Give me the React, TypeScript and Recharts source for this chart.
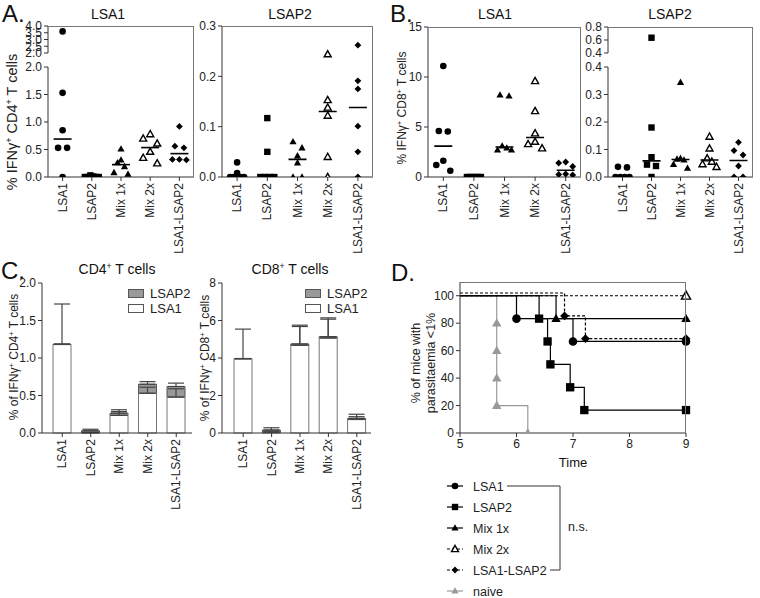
import React from "react";
import {
  ScatterChart,
  Scatter,
  XAxis,
  YAxis,
  BarChart,
  Bar,
  ErrorBar,
  LineChart,
  Line,
  Legend,
} from "recharts";

const FONT = "'Liberation Sans', Arial, Helvetica, sans-serif";
const AXIS = "#333";
const FRAME = "#777";

const groups = ["LSA1", "LSAP2", "Mix 1x", "Mix 2x", "LSA1-LSAP2"];

// A: % IFNγ+ CD4+ T cells, one row per vaccine group (6 mice)
const cd4OnLsa1 = [
  [3.6, 1.53, 0.85, 0.53, 0.53, 0],
  [0.03, 0.01, 0, 0, 0, 0],
  [0.51, 0.31, 0.26, 0.19, 0.08, 0.05],
  [0.78, 0.7, 0.61, 0.46, 0.35, 0.25],
  [0.92, 0.56, 0.53, 0.32, 0.32, 0.31],
];
const cd4OnLsap2 = [
  [0.029, 0.008, 0, 0, 0, 0],
  [0.117, 0.05, 0, 0, 0, 0],
  [0.07, 0.058, 0.042, 0.028, 0, 0],
  [0.244, 0.153, 0.138, 0.122, 0.04, 0],
  [0.262, 0.191, 0.175, 0.101, 0.05, 0],
];

// B: % IFNγ+ CD8+ T cells
const cd8OnLsa1 = [
  [11.1, 4.6, 4.55, 1.63, 1.2, 0.63],
  [0, 0, 0, 0, 0, 0],
  [8.2, 8.1, 3.1, 2.9, 2.7, 2.7],
  [9.6, 6.6, 4.37, 3.53, 3.3, 2.87],
  [1.5, 1.4, 1.05, 0.3, 0.25, 0.2],
];
const cd8OnLsap2 = [
  [0.037, 0.035, 0, 0, 0, 0],
  [0.635, 0.18, 0.072, 0.045, 0.04, 0],
  [0.344, 0.068, 0.065, 0.062, 0.046, 0.032],
  [0.147, 0.104, 0.068, 0.056, 0.047, 0.037],
  [0.126, 0.096, 0.08, 0.04, 0, 0],
];

// C: stacked means and upward SEM
const cd4MeanLsa1 = [1.18, 0.005, 0.235, 0.53, 0.48];
const cd4MeanLsap2 = [0.005, 0.025, 0.03, 0.12, 0.14];
const cd4SemLsa1 = [0.54, 0.005, 0.05, 0.08, 0.11];
const cd4SemLsap2 = [0, 0.02, 0.045, 0.035, 0.045];
const cd8MeanLsa1 = [3.96, 0.05, 4.68, 5.07, 0.72];
const cd8MeanLsap2 = [0.01, 0.11, 0.07, 0.07, 0.06];
const cd8SemLsa1 = [1.58, 0.05, 1.0, 1.0, 0.15];
const cd8SemLsap2 = [0, 0.12, 1.0, 1.0, 0.22];

// D: survival steps [day, % of mice with parasitaemia <1%]
const survLsa1 = [[5, 100], [6, 83.3], [7, 66.7], [9, 66.7]];
const survLsap2 = [[5, 100], [6.4, 83.3], [6.55, 66.7], [6.6, 50], [6.95, 33.3], [7.2, 16.7], [9, 16.7]];
const survMix1 = [[5, 100], [6.7, 83.3], [9, 83.3]];
const survMix2 = [[5, 100], [9, 100]];
const survLsa1Lsap2 = [[5, 102], [6.85, 85.3], [7.22, 68.7], [9, 68.7]];
const survNaive = [[5, 100], [5.65, 80], [5.65, 60], [5.65, 40], [5.65, 20], [6.2, 0]];

type Kind = "circle" | "square" | "tri" | "triOpen" | "diamond";
const kinds: Kind[] = ["circle", "square", "tri", "triOpen", "diamond"];

function mark(kind: Kind, cx: number, cy: number, s: number, color = "#000") {
  switch (kind) {
    case "circle":
      return <circle cx={cx} cy={cy} r={3.3 * s} fill={color} />;
    case "square":
      return <rect x={cx - 3.2 * s} y={cy - 3.2 * s} width={6.4 * s} height={6.4 * s} fill={color} />;
    case "tri":
      return (
        <polygon
          points={`${cx},${cy - 3.8 * s} ${cx - 3.6 * s},${cy + 2.6 * s} ${cx + 3.6 * s},${cy + 2.6 * s}`}
          fill={color}
        />
      );
    case "triOpen":
      return (
        <polygon
          points={`${cx},${cy - 3.6 * s} ${cx - 3.5 * s},${cy + 2.6 * s} ${cx + 3.5 * s},${cy + 2.6 * s}`}
          fill="#fff"
          stroke={color}
          strokeWidth={1.4}
        />
      );
    default:
      return (
        <polygon
          points={`${cx},${cy - 3.4 * s} ${cx + 3.4 * s},${cy} ${cx},${cy + 3.4 * s} ${cx - 3.4 * s},${cy}`}
          fill={color}
        />
      );
  }
}

function median(v: number[]) {
  const s = [...v].sort((a, b) => a - b);
  const m = Math.floor(s.length / 2);
  return s.length % 2 ? s[m] : (s[m - 1] + s[m]) / 2;
}

// spread points that would overlap (GraphPad-like scatter)
function swarm(vals: number[], ppu: number, band: number) {
  const s = [...vals].sort((a, b) => b - a);
  const out: { off: number; v: number }[] = [];
  let i = 0;
  while (i < s.length) {
    let j = i + 1;
    while (j < s.length && (s[j - 1] - s[j]) * ppu < 6.5) j++;
    const n = j - i;
    const step = n > 1 ? Math.min(9, 14 / (n - 1)) : 0;
    const slots = Array.from({ length: n }, (_, k) => (k - (n - 1) / 2) * step).sort(
      (a, b) => Math.abs(a) - Math.abs(b) || a - b
    );
    for (let k = 0; k < n; k++) out.push({ off: slots[k] / band, v: s[i + k] });
    i = j;
  }
  return out;
}

function CatTick(props: any) {
  const { x, y, payload } = props;
  const label = typeof payload.value === "number" ? groups[payload.value] : payload.value;
  return (
    <text
      x={x}
      y={y}
      dy={4}
      transform={`rotate(-90 ${x} ${y})`}
      textAnchor="end"
      fontSize={12}
      fill="#222"
      fontFamily={FONT}
    >
      {label}
    </text>
  );
}

const yTick = { fontSize: 12, fill: "#222", fontFamily: FONT };

type Seg = { top: number; h: number; domain: [number, number]; ticks: number[] };

function SegChart({ left, w, seg, pts, medians, showX, digits }: any) {
  const TM = 8;
  const RM = 4;
  const YW = 44;
  const XH = showX ? 80 : 0;
  const BM = showX ? 0 : 8;
  return (
    <div style={{ position: "absolute", left: left - YW, top: seg.top - TM }}>
      <ScatterChart
        width={YW + w + RM}
        height={TM + seg.h + XH + BM}
        margin={{ top: TM, right: RM, bottom: BM, left: 0 }}
      >
        <XAxis
          type="number"
          dataKey="x"
          domain={[-0.5, 4.5]}
          ticks={[0, 1, 2, 3, 4]}
          interval={0}
          hide={!showX}
          height={XH}
          tickSize={4}
          tick={<CatTick />}
          axisLine={{ stroke: AXIS }}
          tickLine={{ stroke: AXIS }}
        />
        <YAxis
          type="number"
          dataKey="y"
          domain={seg.domain}
          ticks={seg.ticks}
          interval={0}
          width={YW}
          tickSize={4}
          allowDataOverflow
          tickFormatter={(v: number) => v.toFixed(digits)}
          tick={yTick}
          axisLine={{ stroke: AXIS }}
          tickLine={{ stroke: AXIS }}
        />
        {pts.map((d: any[], i: number) => (
          <Scatter
            key={groups[i]}
            data={d}
            isAnimationActive={false}
            shape={(p: any) => mark(kinds[i], p.cx, p.cy, 1)}
          />
        ))}
        {medians && (
          <Scatter
            data={medians}
            isAnimationActive={false}
            shape={(p: any) => (
              <line x1={p.cx - 9} x2={p.cx + 9} y1={p.cy} y2={p.cy} stroke="#000" strokeWidth={1.6} />
            )}
          />
        )}
      </ScatterChart>
    </div>
  );
}

function DotPanel({ left, w, values, lower, upper, digits }: {
  left: number;
  w: number;
  values: number[][];
  lower: Seg;
  upper?: Seg;
  digits: number;
}) {
  const band = w / 5;
  const split = lower.domain[1];
  const make = (seg: Seg, keep: (v: number) => boolean) => {
    const ppu = seg.h / (seg.domain[1] - seg.domain[0]);
    return values.map((vals, i) =>
      swarm(vals.filter(keep), ppu, band).map((p) => ({ x: i + p.off, y: p.v }))
    );
  };
  const medians = values.map((vals, i) => ({ x: i, y: median(vals) }));
  const top = upper ? upper.top : lower.top;
  return (
    <>
      {upper && (
        <SegChart left={left} w={w} seg={upper} pts={make(upper, (v) => v > split)} showX={false} digits={digits} />
      )}
      <SegChart
        left={left}
        w={w}
        seg={lower}
        pts={make(lower, (v) => v <= split)}
        medians={medians}
        showX
        digits={digits}
      />
      <div
        style={{
          position: "absolute",
          left,
          top,
          width: w,
          height: lower.top + lower.h - top,
          borderTop: `1px solid ${FRAME}`,
          borderRight: `1px solid ${FRAME}`,
          boxSizing: "border-box",
          pointerEvents: "none",
        }}
      />
    </>
  );
}

const swatch: Record<string, string> = { LSA1: "#fff", LSAP2: "#999" };

function BarLegend(props: any) {
  const items = [...(props.payload ?? [])].reverse();
  return (
    <div style={{ fontFamily: FONT, fontSize: 13, lineHeight: "15px", color: "#222" }}>
      {items.map((it: any) => (
        <div key={it.value} style={{ display: "flex", alignItems: "center" }}>
          <span
            style={{
              display: "inline-block",
              width: 14,
              height: 7,
              background: swatch[it.value],
              border: "1px solid #555",
              marginRight: 6,
            }}
          />
          {it.value}
        </div>
      ))}
    </div>
  );
}

function StackPanel({ left, top, w, h, m1, m2, e1, e2, domain, ticks, digits, padL, padR, legendX }: any) {
  const YW = 36;
  const TM = 8;
  const RM = 6;
  const rows = groups.map((g, i) => ({
    g,
    lsa1: m1[i],
    lsap2: m2[i],
    e1: [0, e1[i]],
    e2: [0, e2[i]],
  }));
  return (
    <div style={{ position: "absolute", left: left - YW, top: top - TM }}>
      <BarChart
        width={YW + w + RM}
        height={TM + h + 80}
        data={rows}
        barSize={18}
        margin={{ top: TM, right: RM, bottom: 0, left: 0 }}
      >
        <XAxis
          dataKey="g"
          interval={0}
          height={80}
          tickSize={4}
          tick={<CatTick />}
          padding={{ left: padL, right: padR }}
          axisLine={{ stroke: AXIS }}
          tickLine={{ stroke: AXIS }}
        />
        <YAxis
          type="number"
          domain={domain}
          ticks={ticks}
          interval={0}
          width={YW}
          tickSize={4}
          tickFormatter={(v: number) => v.toFixed(digits)}
          tick={yTick}
          axisLine={{ stroke: AXIS }}
          tickLine={{ stroke: AXIS }}
        />
        <Bar dataKey="lsa1" name="LSA1" stackId="s" fill="#fff" stroke="#777" isAnimationActive={false}>
          <ErrorBar dataKey="e1" direction="y" width={8} stroke="#444" strokeWidth={1.2} />
        </Bar>
        <Bar dataKey="lsap2" name="LSAP2" stackId="s" fill="#999" stroke="#555" isAnimationActive={false}>
          <ErrorBar dataKey="e2" direction="y" width={8} stroke="#444" strokeWidth={1.2} />
        </Bar>
        <Legend
          layout="vertical"
          align="center"
          verticalAlign="middle"
          wrapperStyle={{ left: legendX, top: 11, width: "auto" }}
          content={BarLegend}
        />
      </BarChart>
    </div>
  );
}

const curves = [
  { name: "naive", pts: survNaive, kind: "tri" as Kind, color: "#999", dash: undefined },
  { name: "LSA1", pts: survLsa1, kind: "circle" as Kind, color: "#000", dash: undefined },
  { name: "LSAP2", pts: survLsap2, kind: "square" as Kind, color: "#000", dash: undefined },
  { name: "Mix 1x", pts: survMix1, kind: "tri" as Kind, color: "#000", dash: undefined },
  { name: "Mix 2x", pts: survMix2, kind: "triOpen" as Kind, color: "#000", dash: "3 2" },
  { name: "LSA1-LSAP2", pts: survLsa1Lsap2, kind: "diamond" as Kind, color: "#000", dash: "3 2" },
];
const legendOrder = ["LSA1", "LSAP2", "Mix 1x", "Mix 2x", "LSA1-LSAP2", "naive"];

function SurvivalPanel() {
  const left = 460;
  const top = 282;
  const w = 226;
  const h = 151;
  const YW = 40;
  const TM = 8;
  const RM = 10;
  const row = 21;
  return (
    <>
      <div style={{ position: "absolute", left: left - YW, top: top - TM }}>
        <LineChart width={YW + w + RM} height={TM + h + 30} margin={{ top: TM, right: RM, bottom: 0, left: 0 }}>
          <XAxis
            type="number"
            dataKey="t"
            domain={[5, 9]}
            ticks={[5, 6, 7, 8, 9]}
            interval={0}
            height={30}
            tickSize={4}
            tick={yTick}
            axisLine={{ stroke: AXIS }}
            tickLine={{ stroke: AXIS }}
          />
          <YAxis
            type="number"
            domain={[0, 110]}
            ticks={[0, 20, 40, 60, 80, 100]}
            interval={0}
            width={YW}
            tickSize={4}
            allowDataOverflow
            tick={yTick}
            axisLine={{ stroke: AXIS }}
            tickLine={{ stroke: AXIS }}
          />
          {curves.map((c) => (
            <Line
              key={c.name}
              data={c.pts.map(([t, s]) => ({ t, s }))}
              dataKey="s"
              type="stepAfter"
              stroke={c.color}
              strokeWidth={1.2}
              strokeDasharray={c.dash}
              isAnimationActive={false}
              dot={(p: any) => (
                <g key={`${c.name}-${p.index}`}>{p.index === 0 ? null : mark(c.kind, p.cx, p.cy, 1.3, c.color)}</g>
              )}
            />
          ))}
        </LineChart>
      </div>
      <div
        style={{
          position: "absolute",
          left,
          top,
          width: w,
          height: h,
          borderTop: `1px solid ${FRAME}`,
          borderRight: `1px solid ${FRAME}`,
          boxSizing: "border-box",
          pointerEvents: "none",
        }}
      />
      <svg style={{ position: "absolute", left: 440, top: 474 }} width={180} height={124}>
        {legendOrder.map((n, i) => {
          const c = curves.find((k) => k.name === n)!;
          const y = 12 + i * row;
          return (
            <g key={n}>
              <line x1={7} x2={23} y1={y} y2={y} stroke={c.color} strokeWidth={1.2} strokeDasharray={c.dash} />
              {mark(c.kind, 15, y, 1, c.color)}
              <text x={33} y={y + 4.5} fontSize={12.5} fill="#222" fontFamily={FONT}>
                {n}
              </text>
            </g>
          );
        })}
        <polyline
          points={`67,12 120,12 120,${12 + 4 * row} 110,${12 + 4 * row}`}
          fill="none"
          stroke="#333"
          strokeWidth={1}
        />
        <text x={128} y={57} fontSize={12.5} fill="#222" fontFamily={FONT}>
          n.s.
        </text>
      </svg>
    </>
  );
}

function Txt({ x, y, size, center, children }: any) {
  return (
    <div
      style={{
        position: "absolute",
        left: x,
        top: y,
        fontSize: size,
        lineHeight: 1,
        whiteSpace: "nowrap",
        color: "#111",
        transform: center ? "translateX(-50%)" : undefined,
      }}
    >
      {children}
    </div>
  );
}

function VLabel({ x, y, size, children }: any) {
  return (
    <div
      style={{
        position: "absolute",
        left: x,
        top: y,
        fontSize: size,
        lineHeight: 1.2,
        whiteSpace: "nowrap",
        textAlign: "center",
        color: "#222",
        transform: "translate(-50%, -50%) rotate(-90deg)",
      }}
    >
      {children}
    </div>
  );
}

const Sup = () => <span style={{ fontSize: "0.62em", position: "relative", top: "-0.55em" }}>+</span>;

export default function App() {
  return (
    <div
      style={{
        position: "absolute",
        left: 0,
        top: 0,
        width: 760,
        height: 598,
        background: "#fff",
        fontFamily: FONT,
        overflow: "hidden",
      }}
    >
      <Txt x={2} y={2} size={24}>A.</Txt>
      <Txt x={390} y={2} size={24}>B.</Txt>
      <Txt x={1} y={259} size={24}>C.</Txt>
      <Txt x={391} y={261} size={24}>D.</Txt>

      <Txt x={108} y={6.5} size={14} center>LSA1</Txt>
      <Txt x={290} y={6.5} size={14} center>LSAP2</Txt>
      <Txt x={495} y={6.5} size={14} center>LSA1</Txt>
      <Txt x={670} y={6.5} size={14} center>LSAP2</Txt>
      <Txt x={117} y={261.5} size={14} center>
        CD4<Sup /> T cells
      </Txt>
      <Txt x={290} y={261.5} size={14} center>
        CD8<Sup /> T cells
      </Txt>

      <VLabel x={13} y={122} size={14.5}>
        % IFNγ<Sup /> CD4<Sup /> T cells
      </VLabel>
      <VLabel x={402} y={108} size={12}>
        % IFNγ<Sup /> CD8<Sup /> T cells
      </VLabel>
      <VLabel x={14} y={357} size={12}>
        % of IFNγ<Sup /> CD4<Sup /> T cells
      </VLabel>
      <VLabel x={205} y={358} size={12}>
        % of IFNγ<Sup /> CD8<Sup /> T cells
      </VLabel>
      <VLabel x={424} y={363} size={12.5}>
        % of mice with
        <br />
        parasitaemia &lt;1%
      </VLabel>
      <Txt x={573} y={456} size={13} center>Time</Txt>

      <DotPanel
        left={48}
        w={146}
        values={cd4OnLsa1}
        digits={1}
        upper={{ top: 26, h: 27, domain: [2, 4], ticks: [2, 2.5, 3, 3.5, 4] }}
        lower={{ top: 67, h: 110, domain: [0, 2], ticks: [0, 0.5, 1, 1.5, 2] }}
      />
      <DotPanel
        left={222}
        w={151}
        values={cd4OnLsap2}
        digits={1}
        lower={{ top: 26, h: 151, domain: [0, 0.3], ticks: [0, 0.1, 0.2, 0.3] }}
      />
      <DotPanel
        left={428}
        w={153}
        values={cd8OnLsa1}
        digits={0}
        lower={{ top: 27, h: 150, domain: [0, 15], ticks: [0, 5, 10, 15] }}
      />
      <DotPanel
        left={608}
        w={145}
        values={cd8OnLsap2}
        digits={1}
        upper={{ top: 27, h: 26, domain: [0.4, 0.8], ticks: [0.4, 0.6, 0.8] }}
        lower={{ top: 67, h: 110, domain: [0, 0.4], ticks: [0, 0.1, 0.2, 0.3, 0.4] }}
      />

      <StackPanel
        left={42}
        top={283}
        w={150}
        h={150}
        m1={cd4MeanLsa1}
        m2={cd4MeanLsap2}
        e1={cd4SemLsa1}
        e2={cd4SemLsap2}
        domain={[0, 2]}
        ticks={[0, 0.5, 1, 1.5, 2]}
        digits={1}
        padL={6}
        padR={1.5}
        legendX={122}
      />
      <StackPanel
        left={222}
        top={283}
        w={149}
        h={150}
        m1={cd8MeanLsa1}
        m2={cd8MeanLsap2}
        e1={cd8SemLsa1}
        e2={cd8SemLsap2}
        domain={[0, 8]}
        ticks={[0, 2, 4, 6, 8]}
        digits={0}
        padL={7}
        padR={0}
        legendX={119}
      />

      <SurvivalPanel />
    </div>
  );
}
